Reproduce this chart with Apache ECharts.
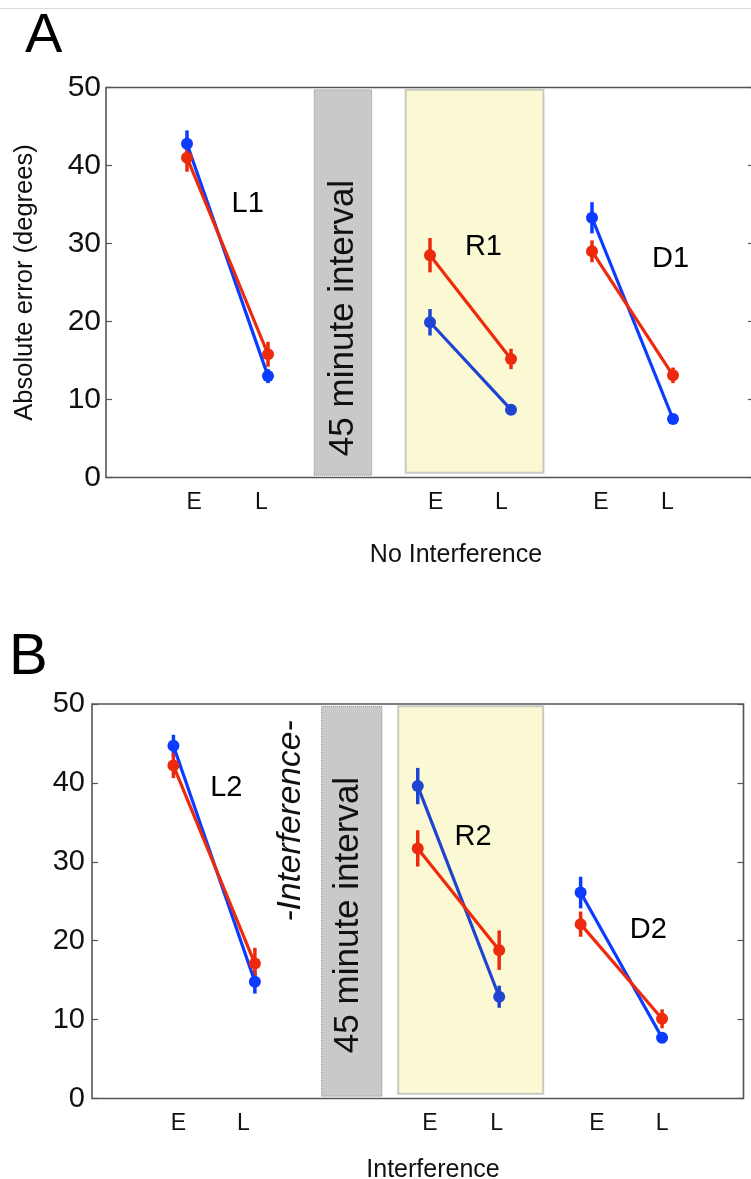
<!DOCTYPE html>
<html>
<head>
<meta charset="utf-8">
<script src="https://cdn.jsdelivr.net/npm/echarts@6/dist/echarts.min.js"></script>
<style>
  html, body { margin: 0; padding: 0; background: #fff; overflow: hidden; }
  #chart { width: 751px; height: 1179px; }
</style>
</head>
<body>
<div id="chart"></div>
<script>
// Session phases plotted per block: Early and Late
const phases = ['E', 'L'];

// Panel A: no interference
const blocksA = ['L1', 'R1', 'D1'];
const blockStartA = [1, 4, 6];             // x position of the E point of each block
const redA = [[41.0, 15.8], [28.5, 15.2], [29.0, 13.1]];
const redErrA = [[1.8, 1.6], [2.2, 1.3], [1.4, 1.0]];
const blueA = [[42.8, 13.0], [19.9, 8.7], [33.3, 7.5]];
const blueErrA = [[1.7, 0.9], [1.7, 0.5], [2.0, 0.5]];
const phaseTicksA = [1.09, 1.92, 4.07, 4.88, 6.11, 6.93];

// Panel B: interference
const blocksB = ['L2', 'R2', 'D2'];
const blockStartB = [1, 4, 6];
const redB = [[42.2, 17.1], [31.7, 18.8], [22.1, 10.1]];
const redErrB = [[1.6, 2.0], [2.3, 2.5], [1.6, 1.2]];
const blueB = [[44.7, 14.8], [39.6, 12.9], [26.1, 7.7]];
const blueErrB = [[1.4, 1.5], [2.3, 1.4], [2.0, 0.5]];
const phaseTicksB = [1.06, 1.86, 4.15, 4.97, 6.2, 7.0];

// Y axis ticks
const yTicks = [0, 10, 20, 30, 40, 50];

const FONT = '"Liberation Sans", Arial, Helvetica, sans-serif';
const RED = '#ee2a0c';
const BLUE = '#0a3cff';
const BLUE_DARK = '#1f44d2';
const AXIS = '#555';

const chart = echarts.init(document.getElementById('chart'), null, { renderer: 'canvas' });

function phaseLabel(ticks) {
  return function (v) {
    for (let i = 0; i < ticks.length; i++) {
      if (Math.abs(ticks[i] - v) < 1e-6) return phases[i % 2];
    }
    return '';
  };
}

function xAxisFor(g, ticks) {
  return {
    type: 'value', gridIndex: g, min: 0, max: 8,
    axisLine: { show: false }, axisTick: { show: false }, splitLine: { show: false },
    axisLabel: {
      customValues: ticks, formatter: phaseLabel(ticks),
      fontSize: 23, color: '#111', fontFamily: FONT, margin: 14
    }
  };
}

function yAxesFor(g, labelSize, labelMargin, name) {
  return [{
    type: 'value', gridIndex: g, min: yTicks[0], max: yTicks[yTicks.length - 1], interval: 10,
    axisLine: { show: false },
    axisTick: { show: true, inside: true, length: 6, lineStyle: { color: AXIS, width: 1.2 } },
    splitLine: { show: false },
    axisLabel: { fontSize: labelSize, color: '#111', fontFamily: FONT, margin: labelMargin },
    name: name || '', nameLocation: 'middle', nameGap: 68,
    nameTextStyle: { fontSize: 25.5, color: '#111', fontFamily: FONT }
  }, {
    type: 'value', gridIndex: g, position: 'right', min: 0, max: 50, interval: 10,
    axisLine: { show: false },
    axisTick: { show: true, inside: true, length: 6, lineStyle: { color: AXIS, width: 1.2 } },
    splitLine: { show: false }, axisLabel: { show: false }
  }];
}

function panelSeries(g, blocks, starts, red, redErr, blue, blueErr, areas, notes, blueCols) {
  const xi = g, yi = g * 2;
  const out = [];
  // shaded intervals behind the data
  out.push({
    type: 'line', xAxisIndex: xi, yAxisIndex: yi, data: [], silent: true, z: 1,
    markArea: { silent: true, data: areas }
  });
  const errSeries = (vals, errs, color) => ({
    type: 'custom', xAxisIndex: xi, yAxisIndex: yi, z: 3,
    data: vals.flatMap((pair, b) => pair.map((v, k) => [starts[b] + k, v - errs[b][k], v + errs[b][k]])),
    renderItem: function (params, api) {
      const p0 = api.coord([api.value(0), api.value(1)]);
      const p1 = api.coord([api.value(0), api.value(2)]);
      const c = Array.isArray(color) ? color[Math.floor(params.dataIndex / 2)] : color;
      return { type: 'line', shape: { x1: p0[0], y1: p0[1], x2: p1[0], y2: p1[1] },
               style: { stroke: c, lineWidth: 3.5 } };
    }
  });
  blocks.forEach((name, b) => {
    out.push({
      type: 'line', xAxisIndex: xi, yAxisIndex: yi, z: 4,
      data: blue[b].map((v, k) => [starts[b] + k, v]),
      symbol: 'circle', symbolSize: 12, color: blueCols[b],
      lineStyle: { width: 3.2, color: blueCols[b] }, itemStyle: { color: blueCols[b] }
    });
  });
  out.push(errSeries(blue, blueErr, blueCols));
  blocks.forEach((name, b) => {
    out.push({
      type: 'line', xAxisIndex: xi, yAxisIndex: yi, z: 5,
      data: red[b].map((v, k) => [starts[b] + k, v]),
      symbol: 'circle', symbolSize: 12, color: RED,
      lineStyle: { width: 3.2, color: RED }, itemStyle: { color: RED }
    });
  });
  out.push(errSeries(red, redErr, RED));
  // block names
  out.push({
    type: 'scatter', xAxisIndex: xi, yAxisIndex: yi, z: 6, symbolSize: 0, silent: true,
    itemStyle: { opacity: 1 },
    data: notes.map((n, i) => ({ value: n, name: blocks[i] })),
    label: { show: true, position: 'inside', formatter: '{b}', fontSize: 29, color: '#000', opacity: 1, fontFamily: FONT }
  });
  return out;
}

const grayStyle = { color: '#c9c9c9', borderColor: '#8a8a8a', borderWidth: 1, borderType: 'dotted' };
const yellowStyle = { color: '#fbf9d4', borderColor: '#c8cac2', borderWidth: 2 };

const areasA = [
  [{ xAxis: 2.57, yAxis: 0.3, itemStyle: grayStyle }, { xAxis: 3.28, yAxis: 49.7 }],
  [{ xAxis: 3.70, yAxis: 0.6, itemStyle: yellowStyle }, { xAxis: 5.40, yAxis: 49.7 }]
];
const areasB = [
  [{ xAxis: 2.82, yAxis: 0.3, itemStyle: grayStyle }, { xAxis: 3.56, yAxis: 49.7 }],
  [{ xAxis: 3.76, yAxis: 0.6, itemStyle: yellowStyle }, { xAxis: 5.54, yAxis: 49.7 }]
];
const notesA = [[1.75, 35.1], [4.66, 29.5], [6.97, 28.0]];
const notesB = [[1.65, 39.3], [4.68, 33.1], [6.83, 21.4]];

const yA = yAxesFor(0, 30, 5, 'Absolute error (degrees)');
const yB = yAxesFor(1, 29, 7, '');

const option = {
  animation: false,
  backgroundColor: '#fff',
  grid: [
    { left: 106, top: 87.5, width: 648, height: 390, show: true, borderColor: AXIS, borderWidth: 1.6,
      backgroundColor: 'transparent', outerBoundsMode: 'none', containLabel: false },
    { left: 92, top: 704, width: 651.5, height: 394.5, show: true, borderColor: AXIS, borderWidth: 1.6,
      backgroundColor: 'transparent', outerBoundsMode: 'none', containLabel: false }
  ],
  xAxis: [xAxisFor(0, phaseTicksA), xAxisFor(1, phaseTicksB)],
  yAxis: [yA[0], yA[1], yB[0], yB[1]],
  title: [
    { text: 'A', left: 20, top: 4, textStyle: { fontSize: 56, fontWeight: 'normal', color: '#000', fontFamily: FONT } },
    { text: 'B', left: 4, top: 624, textStyle: { fontSize: 58, fontWeight: 'normal', color: '#000', fontFamily: FONT } },
    { text: 'No Interference', left: 451, top: 538, textAlign: 'center', textStyle: { fontSize: 25, fontWeight: 'normal', color: '#111', fontFamily: FONT } },
    { text: 'Interference', left: 428, top: 1153, textAlign: 'center', textStyle: { fontSize: 25, fontWeight: 'normal', color: '#111', fontFamily: FONT } }
  ],
  graphic: [
    { type: 'line', shape: { x1: 0, y1: 8.5, x2: 751, y2: 8.5 }, style: { stroke: '#dcdcdc', lineWidth: 1 }, silent: true },
    { type: 'text', x: 343.5, y: 318, rotation: Math.PI / 2, z: 10,
      style: { text: '45 minute interval', fontSize: 35, fill: '#111', fontFamily: FONT, align: 'center', verticalAlign: 'middle' } },
    { type: 'text', x: 348, y: 915, rotation: Math.PI / 2, z: 10,
      style: { text: '45 minute interval', fontSize: 35, fill: '#111', fontFamily: FONT, align: 'center', verticalAlign: 'middle' } },
    { type: 'text', x: 291, y: 821, rotation: Math.PI / 2, z: 10,
      style: { text: '-Interference-', fontSize: 33.5, fontStyle: 'italic', fill: '#111', fontFamily: FONT, align: 'center', verticalAlign: 'middle' } }
  ],
  series: [].concat(
    panelSeries(0, blocksA, blockStartA, redA, redErrA, blueA, blueErrA, areasA, notesA, [BLUE, BLUE_DARK, BLUE]),
    panelSeries(1, blocksB, blockStartB, redB, redErrB, blueB, blueErrB, areasB, notesB, [BLUE, BLUE_DARK, BLUE])
  )
};

chart.setOption(option);
</script>
</body>
</html>
